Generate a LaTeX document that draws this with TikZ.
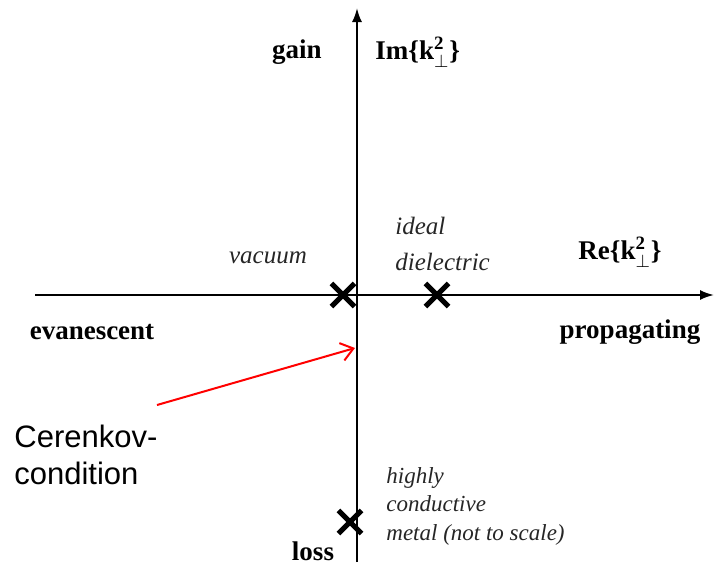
\documentclass[tikz,border=0pt]{standalone}
\usepackage{fontspec}
\setmainfont{Liberation Serif}
\newfontfamily\cersans{Liberation Sans}
\usetikzlibrary{positioning, arrows.meta, shapes.misc}

\begin{document}
\begin{tikzpicture}[x=0.5pt, y=-0.5pt]
\tikzset{
    every node/.style={inner sep=0pt},
    axislabel/.style={font=\fontsize{13.5}{16}\selectfont\bfseries},
    matlabel/.style={font=\fontsize{12.5}{14.25}\selectfont\itshape, align=left, text=black!85},
    xmark/.style={cross out, draw, line width=2.6pt, minimum size=9pt},
    axis/.style={line width=1pt, -{Latex[length=7pt,width=5pt]}}
}
\useasboundingbox (0,0) rectangle (714,564);

% axes
\coordinate (west) at (35,295);
\coordinate (east) at (714,295);
\coordinate (south) at (357,562);
\coordinate (north) at (357,8);
\draw[axis] (west) -- (east);
\draw[axis] (south) -- (north);

% axis labels
\node[axislabel] (gain) at (297,52) {gain};
\node[axislabel, anchor=west] (im) at (375,52) {Im\{k$_{\perp}^{\mathbf{2}}$\}};
\node[axislabel] (re) at (620,252) {Re\{k$_{\perp}^{\mathbf{2}}$\}};
\node[axislabel] (evan) at (92,332) {evanescent};
\node[axislabel] (prop) at (630,332) {propagating};
\node[axislabel] (loss) at (313,551) {loss};

% materials
\node[xmark] (vac) at (343,295) {};
\node[xmark] (diel) at (437,295) {};
\node[xmark] (metal) at (350,522) {};
\node[matlabel] (vactext) at (268,258) {vacuum};
\node[matlabel, anchor=west, font=\fontsize{12.5}{18}\selectfont\itshape] (dieltext) at (395,244) {ideal\\dielectric};
\node[matlabel, anchor=west, font=\fontsize{11.5}{14.25}\selectfont\itshape] (metaltext) at (386,506) {highly\\conductive\\metal (not to scale)};

% Cerenkov condition
\node[font=\fontsize{15.5}{18.5}\selectfont\cersans, align=left, anchor=west] (cer) at (14,455) {Cerenkov-\\condition};
\coordinate (cerstart) at (157,405);
\coordinate (certip) at (355,348);
\draw[red, line width=1pt, -{Straight Barb[length=6pt,width=9pt]}] (cerstart) -- (certip);
\end{tikzpicture}
\end{document}
